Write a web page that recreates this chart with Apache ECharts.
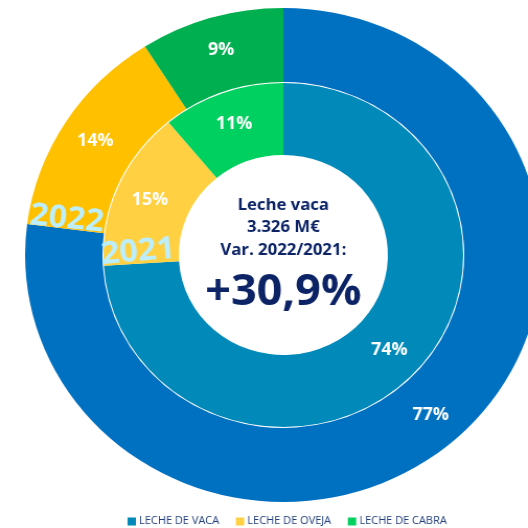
<!DOCTYPE html>
<html>
<head>
<meta charset="utf-8">
<script src="https://cdn.jsdelivr.net/npm/echarts@6/dist/echarts.min.js"></script>
<style>
html, body { margin: 0; padding: 0; background: #fff; overflow: hidden; }
#wrap { width: 528px; height: 528px; overflow: hidden; }
/* the source picture is a little wider than tall, so stretch the canvas */
#container { width: 505px; height: 528px; transform: scaleX(1.0455); transform-origin: 0 0; }
</style>
</head>
<body>
<div id="wrap"><div id="container"></div></div>
<script>
// data
var categories = ['LECHE DE VACA', 'LECHE DE OVEJA', 'LECHE DE CABRA'];
var share2021 = [74, 15, 11];
var share2022 = [77, 14, 9];
var yearLabels = ['2022', '2021'];
var centerLines = ['Leche vaca', '3.326 M€', 'Var. 2022/2021:'];
var centerBig = '+30,9%';

var colors2021 = ['#0089b9', '#ffd142', '#00d060'];
var colors2022 = ['#0070c0', '#ffc000', '#00b050'];

var font = '"Open Sans", "Noto Sans", sans-serif';
var navy = '#0c2466';
var cx = 271, cy = 255;

function toData(vals, cols) {
	return categories.map(function(n, i) {
		return { name: n, value: vals[i], itemStyle: { color: cols[i] } };
	});
}

var dom = document.getElementById('container');
var myChart = echarts.init(dom, null, { renderer: 'canvas' });

var pctLabel = {
	show: true,
	position: 'inside',
	formatter: '{c}%',
	color: '#fff',
	fontFamily: font,
	fontWeight: 'bold',
	fontSize: 17
};

var option = {
	animation: false,
	legend: {
		bottom: -4,
		left: 117,
		icon: 'rect',
		itemWidth: 8,
		itemHeight: 8,
		itemGap: 16,
		selectedMode: false,
		data: categories,
		textStyle: { fontFamily: font, fontSize: 10.5, color: '#1f3d7a', padding: [1, 0, 0, -2] }
	},
	graphic: [
		{ type: 'text', x: 64, y: 219, rotation: -6 * Math.PI / 180,
		  style: { text: yearLabels[0], fill: '#bdeefb', font: 'bold 31px ' + font, align: 'center', verticalAlign: 'middle' }, z: 100 },
		{ type: 'text', x: 132, y: 252, rotation: 5 * Math.PI / 180,
		  style: { text: yearLabels[1], fill: '#bdeefb', font: 'bold 31px ' + font, align: 'center', verticalAlign: 'middle' }, z: 100 },
		{ type: 'text', x: cx, y: 205,
		  style: { text: centerLines[0], fill: navy, font: 'bold 16px ' + font, align: 'center', verticalAlign: 'middle' }, z: 100 },
		{ type: 'text', x: cx, y: 227,
		  style: { text: centerLines[1], fill: navy, font: 'bold 16px ' + font, align: 'center', verticalAlign: 'middle' }, z: 100 },
		{ type: 'text', x: cx, y: 250,
		  style: { text: centerLines[2], fill: navy, font: 'bold 16px ' + font, align: 'center', verticalAlign: 'middle' }, z: 100 },
		{ type: 'text', x: cx, y: 293,
		  style: { text: centerBig, fill: navy, font: 'bold 43px ' + font, align: 'center', verticalAlign: 'middle' }, z: 100 }
	],
	series: [
		{
			name: '2021',
			type: 'pie',
			center: [cx, cy],
			radius: [100, 172],
			startAngle: 90,
			clockwise: true,
			silent: true,
			label: pctLabel,
			labelLine: { show: false },
			data: toData(share2021, colors2021)
		},
		{
			name: '2022',
			type: 'pie',
			center: [cx, cy],
			radius: [173, 247],
			startAngle: 90,
			clockwise: true,
			silent: true,
			label: pctLabel,
			labelLine: { show: false },
			data: toData(share2022, colors2022)
		}
	]
};

if (option && typeof option === 'object') {
	myChart.setOption(option, true);
}
</script>
</body>
</html>
